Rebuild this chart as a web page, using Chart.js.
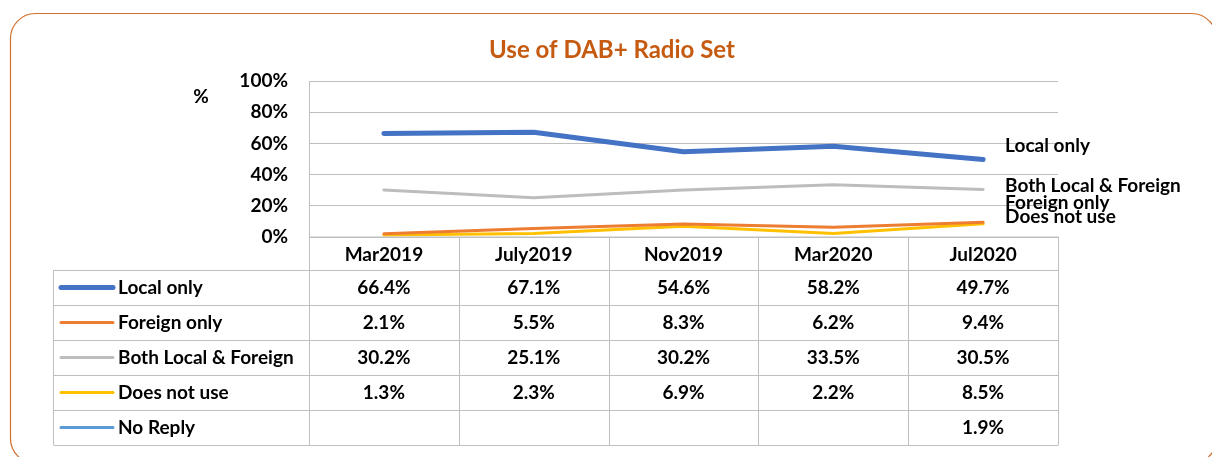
<!DOCTYPE html>
<html>
<head>
<meta charset="utf-8">
<script src="https://cdn.jsdelivr.net/npm/chart.js@4.4.1/dist/chart.umd.min.js"></script>
<style>
  html, body { margin: 0; padding: 0; background: #fff; }
  #wrap { width: 1212px; height: 457px; position: relative; }
</style>
</head>
<body>
<div id="wrap"><canvas id="my-chart"></canvas></div>
<script>
const periods = ['Mar2019', 'July2019', 'Nov2019', 'Mar2020', 'Jul2020'];
const seriesNames = ['Local only', 'Foreign only', 'Both Local & Foreign', 'Does not use', 'No Reply'];
const localOnly = [66.4, 67.1, 54.6, 58.2, 49.7];
const foreignOnly = [2.1, 5.5, 8.3, 6.2, 9.4];
const bothLocalForeign = [30.2, 25.1, 30.2, 33.5, 30.5];
const doesNotUse = [1.3, 2.3, 6.9, 2.2, 8.5];
const noReply = [null, null, null, null, 1.9];
const yTicks = [0, 20, 40, 60, 80, 100];

const colors = ['#4472C4', '#ED7D31', '#BDBDBD', '#FFC000', '#5B9BD5'];
const widths = [5, 3, 3, 3, 3];
// nudges for the end-of-line labels so they don't collide
const endLabelShift = [-14, -19, -4, -7, null];

const FONT = 'Lato, "Open Sans", sans-serif';
const TXT = 'bold 19px ' + FONT;
const ctx = document.querySelector('#my-chart');

const allData = [localOnly, foreignOnly, bothLocalForeign, doesNotUse, noReply];
const datasets = allData.map((d, i) => ({
  label: seriesNames[i],
  data: d,
  borderColor: colors[i],
  backgroundColor: colors[i],
  borderWidth: widths[i],
  pointRadius: 0,
  borderCapStyle: i === 4 ? 'butt' : 'round',
  borderJoinStyle: 'round',
  tension: 0,
  order: [1, 3, 2, 4, 5][i]
}));

const tablePlugin = {
  id: 'extras',
  beforeDraw(chart) {
    const c = chart.ctx;
    c.save();
    c.fillStyle = '#fff';
    c.fillRect(0, 0, chart.width, chart.height);
    c.strokeStyle = '#D0702E';
    c.lineWidth = 1.2;
    c.beginPath();
    c.roundRect(10.5, 13.5, 1206, 450, 25);
    c.stroke();
    c.fillStyle = '#C55A11';
    c.font = 'bold 24px ' + FONT;
    c.textAlign = 'center';
    c.textBaseline = 'middle';
    c.fillText('Use of DAB+ Radio Set', 612, 50);
    c.restore();
  },
  afterDraw(chart) {
    const c = chart.ctx;
    const x = chart.scales.x, y = chart.scales.y;
    const area = chart.chartArea;
    const n = periods.length;
    const step = (area.right - area.left) / n;
    const edges = [];
    for (let i = 0; i <= n; i++) edges.push(Math.round(area.left + i * step) + 0.5);
    const headTop = area.bottom, headH = 33, rowH = 35;
    const rowsTop = headTop + headH;
    const tableLeft = 53.5;
    const rowsBottom = rowsTop + rowH * seriesNames.length;

    c.save();
    c.strokeStyle = '#BFBFBF';
    c.lineWidth = 1;
    c.beginPath();
    c.moveTo(edges[0], headTop); c.lineTo(edges[n], headTop);
    edges.forEach(e => { c.moveTo(e, headTop); c.lineTo(e, rowsBottom); });
    for (let r = 0; r <= seriesNames.length; r++) {
      const yy = Math.round(rowsTop + r * rowH) + 0.5;
      c.moveTo(tableLeft, yy); c.lineTo(edges[n], yy);
    }
    c.moveTo(tableLeft, rowsTop); c.lineTo(tableLeft, rowsBottom);
    c.stroke();

    c.fillStyle = '#000';
    c.font = TXT;
    c.textAlign = 'center';
    c.textBaseline = 'middle';
    periods.forEach((p, i) => c.fillText(p, x.getPixelForValue(i), headTop + headH / 2 + 1));

    allData.forEach((d, r) => {
      const cy = rowsTop + r * rowH + rowH / 2;
      c.strokeStyle = colors[r];
      c.lineWidth = r === 0 ? 5 : 3;
      c.lineCap = 'round';
      c.beginPath();
      c.moveTo(61, cy); c.lineTo(113, cy);
      c.stroke();
      c.textAlign = 'left';
      c.fillText(seriesNames[r], 118, cy);
      c.textAlign = 'center';
      d.forEach((v, i) => {
        if (v !== null) c.fillText(v.toFixed(1) + '%', x.getPixelForValue(i), cy);
      });
    });

    // end labels next to the last point
    allData.forEach((d, r) => {
      if (endLabelShift[r] === null) return;
      const last = d[d.length - 1];
      c.textAlign = 'left';
      c.fillText(seriesNames[r], x.getPixelForValue(n - 1) + 22, y.getPixelForValue(last) + endLabelShift[r]);
    });

    c.textAlign = 'center';
    c.fillText('%', 201, 97);
    c.restore();
  }
};

new Chart(ctx, {
  type: 'line',
  data: { labels: periods, datasets: datasets },
  plugins: [tablePlugin],
  options: {
    responsive: true,
    maintainAspectRatio: false,
    animation: false,
    layout: { padding: { left: 0, right: 154, top: 81, bottom: 0 } },
    plugins: {
      legend: { display: false },
      tooltip: { enabled: false },
      title: { display: false }
    },
    scales: {
      x: {
        offset: true,
        grid: { display: false, drawTicks: false },
        border: { display: false },
        ticks: { display: false },
        afterFit: s => { s.height = 220; }
      },
      y: {
        min: 0,
        max: 100,
        afterBuildTicks: s => { s.ticks = yTicks.map(v => ({ value: v })); },
        grid: { color: '#BFBFBF', drawTicks: false },
        border: { color: '#BFBFBF' },
        ticks: {
          padding: 21,
          color: '#000',
          font: { family: FONT, size: 19, weight: 'bold' },
          callback: v => v + '%'
        },
        afterFit: s => { s.width = 309; }
      }
    }
  }
});
</script>
</body>
</html>
